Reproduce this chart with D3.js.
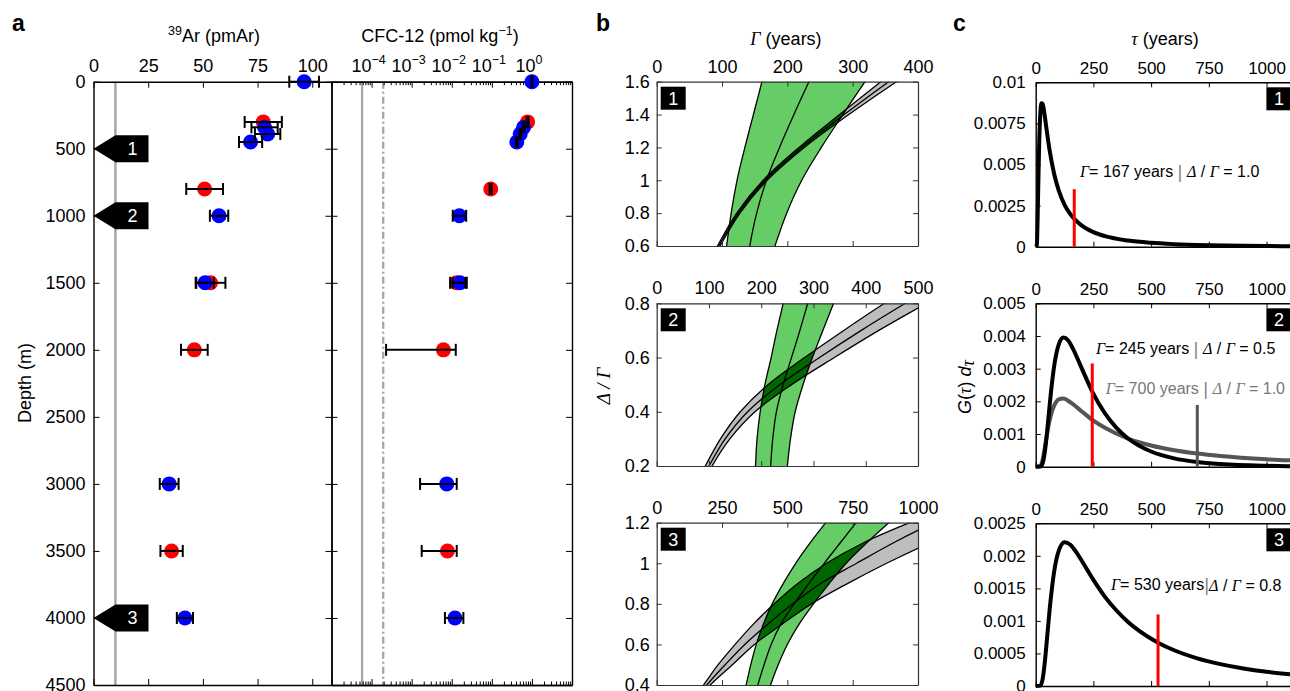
<!DOCTYPE html>
<html>
<head>
<meta charset="utf-8">
<title>39Ar / CFC-12 profiles and transit time distributions</title>
<script src="https://cdn.jsdelivr.net/npm/d3@7"></script>
<style>
  body { margin: 0; background: #fff; }
  svg { display: block; }
</style>
</head>
<body>
<svg id="chart" width="1290" height="691"></svg>
<script>
(function() {
  'use strict';

  // ---- panel a: depth profiles (R = red station, B = blue station) ----
  var depths    = [0, 300, 340, 390, 450, 800, 1000, 1500, 1500, 2000, 3000, 3500, 4000];
  var station   = ['B', 'R', 'B', 'B', 'B', 'R', 'B', 'R', 'B', 'R', 'B', 'R', 'B'];
  var ar39      = [96.3, 77.6, 78.2, 79.6, 71.8, 50.8, 57.4, 53.5, 51.0, 46.1, 34.6, 35.7, 41.8];
  var ar39Err   = [6.8, 8.5, 6.0, 5.8, 5.3, 8.4, 4.2, 6.8, 4.0, 6.1, 4.3, 5.1, 3.7];
  var cfc12     = [1.0, 0.78, 0.62, 0.51, 0.42, 0.094, 0.0155, 0.0133, 0.016, 0.0062, 0.0075, 0.0078, 0.012];
  var cfc12Low  = [0.97, 0.74, 0.59, 0.49, 0.40, 0.088, 0.0106, 0.0091, 0.0105, 0.00023, 0.00162, 0.00178, 0.00676];
  var cfc12High = [1.03, 0.82, 0.65, 0.535, 0.44, 0.10, 0.0229, 0.0237, 0.022, 0.0126, 0.0133, 0.0133, 0.0195];

  var arTicks = [0, 25, 50, 75, 100];
  var depthTicks = [0, 500, 1000, 1500, 2000, 2500, 3000, 3500, 4000, 4500];
  var cfcDecades = [1e-5, 1e-4, 1e-3, 1e-2, 1e-1, 1e0, 1e1];
  var cfcLabelled = [1e-4, 1e-3, 1e-2, 1e-1, 1e0];
  var cfcExponents = ['\u22124', '\u22123', '\u22122', '\u22121', '0'];
  var arDetection = 10;
  var cfcDetection = [5.8e-5, 1.95e-4];
  var markerDepths = [500, 1000, 4000];
  var markerLabels = ['1', '2', '3'];

  // ---- panel b: Gamma vs Delta/Gamma constraints, points are [Gamma, Delta/Gamma] ----
  var b1GammaTicks = [0, 100, 200, 300, 400];
  var b1RatioTicks = [0.6, 0.8, 1, 1.2, 1.4, 1.6];
  var b1ArLeft   = [[104, 0.5], [107, 0.6], [114, 0.8], [123, 1.0], [135, 1.2], [148, 1.4], [161, 1.6], [166, 1.7]];
  var b1ArMid    = [[139, 0.5], [142.5, 0.6], [153, 0.8], [168, 1.0], [188, 1.2], [210, 1.4], [233, 1.6], [245, 1.7]];
  var b1ArRight  = [[173, 0.5], [181, 0.6], [199, 0.8], [222, 1.0], [252, 1.2], [285, 1.4], [319, 1.6], [337, 1.7]];
  var b1CfcUpper = [[80, 0.5], [93, 0.6], [122.5, 0.8], [163, 1.0], [218, 1.2], [280, 1.4], [343, 1.6], [375, 1.7]];
  var b1CfcMid   = [[82, 0.5], [95, 0.6], [125, 0.8], [166, 1.0], [222, 1.2], [287, 1.4], [355, 1.6], [390, 1.7]];
  var b1CfcLower = [[84, 0.5], [97, 0.6], [127.5, 0.8], [169, 1.0], [226, 1.2], [294, 1.4], [367, 1.6], [405, 1.7]];

  var b2GammaTicks = [0, 100, 200, 300, 400, 500];
  var b2RatioTicks = [0.2, 0.4, 0.6, 0.8];
  var b2ArLeft   = [[186, 0.1], [189, 0.2], [192, 0.3], [198, 0.4], [207, 0.5], [219, 0.6], [230, 0.7], [242, 0.8], [255, 0.9]];
  var b2ArMid    = [[215, 0.1], [218, 0.2], [222, 0.3], [229, 0.4], [242, 0.5], [258, 0.6], [274, 0.7], [289, 0.8], [305, 0.9]];
  var b2ArRight  = [[245, 0.1], [250, 0.2], [256, 0.3], [265, 0.4], [280, 0.5], [298, 0.6], [318, 0.7], [338.5, 0.8], [360, 0.9]];
  var b2CfcUpper = [[65, 0.1], [93, 0.2], [122, 0.3], [160, 0.4], [213, 0.5], [283, 0.6], [358, 0.7], [436, 0.8], [520, 0.9]];
  var b2CfcMid   = [[72, 0.1], [100, 0.2], [131, 0.3], [174, 0.4], [235.5, 0.5], [311.5, 0.6], [391.5, 0.7], [475.5, 0.8], [560, 0.9]];
  var b2CfcLower = [[80, 0.1], [106, 0.2], [140, 0.3], [188, 0.4], [258, 0.5], [340, 0.6], [425, 0.7], [515, 0.8], [600, 0.9]];

  var b3GammaTicks = [0, 250, 500, 750, 1000];
  var b3RatioTicks = [0.4, 0.6, 0.8, 1, 1.2];
  var b3ArLeft   = [[320, 0.3], [342, 0.4], [360, 0.5], [381, 0.6], [408, 0.7], [442, 0.8], [484, 0.9], [532, 1.0], [587, 1.1], [647, 1.2], [712, 1.3]];
  var b3ArMid    = [[365, 0.3], [387, 0.4], [411, 0.5], [438, 0.6], [475, 0.7], [526, 0.8], [582, 0.9], [641, 1.0], [702, 1.1], [763, 1.2], [825, 1.3]];
  var b3ArRight  = [[415, 0.3], [436, 0.4], [465, 0.5], [500, 0.6], [545, 0.7], [600, 0.8], [660, 0.9], [725, 1.0], [803, 1.1], [888, 1.2], [975, 1.3]];
  var b3CfcUpper = [[120, 0.3], [179.5, 0.4], [235, 0.5], [300, 0.6], [370, 0.7], [450, 0.8], [540, 0.9], [650, 1.0], [790, 1.1], [968, 1.2], [1170, 1.3]];
  var b3CfcMid   = [[135, 0.3], [192, 0.4], [262, 0.5], [337, 0.6], [425, 0.7], [521, 0.8], [627, 0.9], [765, 1.0], [905, 1.1], [1060, 1.2], [1230, 1.3]];
  var b3CfcLower = [[140, 0.3], [205, 0.4], [290, 0.5], [374, 0.6], [480, 0.7], [592, 0.8], [730, 0.9], [880, 1.0], [1000, 1.074], [1080, 1.12]];

  // ---- panel c: transit time distributions G(tau) ----
  var tauTicks = [0, 250, 500, 750, 1000];
  var c1GTicks = [0, 0.0025, 0.005, 0.0075, 0.01];
  var c2GTicks = [0, 0.001, 0.002, 0.003, 0.004, 0.005];
  var c3GTicks = [0, 0.0005, 0.001, 0.0015, 0.002, 0.0025];

  var c1Tau = [0, 5, 10, 15, 20, 25, 30, 35, 40, 50, 60, 80, 100, 125, 150, 200, 250, 300, 400, 500, 600, 750, 900, 1000, 1125];
  var c1G   = [0, 0.000126, 0.00288, 0.00626, 0.00809, 0.00872, 0.0087, 0.00836, 0.00788, 0.00684, 0.00589, 0.00442, 0.00341,
               0.00255, 0.00198, 0.00128, 0.000885, 0.000642, 0.000372, 0.000234, 0.000155, 0.0000901, 0.0000552, 0.0000408, 0.000029];

  var c2Tau = [0, 20, 30, 40, 50, 60, 70, 80, 90, 100, 120, 140, 160, 200, 245, 300, 350, 400, 500, 600, 700, 800, 1000, 1125];
  var c2G   = [0, 0.000003, 0.0001, 0.000479, 0.00112, 0.00185, 0.00253, 0.00308, 0.00348, 0.00374, 0.00395, 0.00387, 0.00363,
               0.0030, 0.0023, 0.00163, 0.00119, 0.000864, 0.000465, 0.000255, 0.000143, 0.000081, 0.0000272, 0.000014];
  var c2AltTau = [0, 20, 30, 40, 50, 60, 70, 80, 100, 120, 140, 160, 200, 250, 300, 400, 500, 600, 700, 800, 1000, 1125];
  var c2AltG   = [0, 0.0000216, 0.000217, 0.000604, 0.00103, 0.0014, 0.00168, 0.00187, 0.00206, 0.00209, 0.00202, 0.00192,
                  0.00169, 0.00141, 0.00119, 0.000861, 0.000649, 0.000505, 0.000403, 0.000328, 0.000229, 0.00019];

  var c3Tau = [0, 20, 30, 40, 50, 60, 70, 80, 100, 125, 150, 175, 200, 250, 300, 350, 400, 450, 530, 600, 700, 800, 900, 1000, 1125];
  var c3G   = [0, 0.0000062, 0.000106, 0.000384, 0.000769, 0.00116, 0.00149, 0.00176, 0.00208, 0.00221, 0.00217, 0.00206, 0.00192,
               0.00163, 0.00137, 0.00116, 0.000984, 0.000842, 0.000665, 0.000549, 0.000425, 0.000336, 0.000269, 0.000218, 0.000172];

  // mean age markers: panel, tau, height
  var markPanel = [0, 1, 1, 2];
  var markTau = [167, 245, 700, 530];
  var markTop = [0.0035, 0.00316, 0.00189, 0.0011];
  var markColor = ['#ff0000', '#ff0000', '#555555', '#ff0000'];

  var annGamma = ['167', '245', '700', '530'];
  var annRatio = ['1.0', '0.5', '1.0', '0.8'];

  var FONT = "'Liberation Sans', Arial, Helvetica, sans-serif";
  var GREEK = "'Liberation Serif', 'Times New Roman', serif";

  var svg = d3.select('#chart');
  var defs = svg.append('defs');

  function styleAxis(sel, size, color, width) {
    sel.attr('font-family', null).attr('font-size', null);
    sel.selectAll('text').attr('font-family', FONT).attr('font-size', size).attr('fill', '#000');
    sel.selectAll('path.domain').attr('stroke', color).attr('stroke-width', width);
    sel.selectAll('.tick line').attr('stroke', color).attr('stroke-width', 1);
  }

  // generic boxed frame with labels on top/left and inward ticks on all sides
  function frame(box, x, y, o) {
    var g = svg.append('g');
    var t = o.tick;
    var top = g.append('g').attr('transform', 'translate(0,' + box.t + ')')
      .call(d3.axisTop(x).tickValues(o.xTicks).tickSize(-t).tickSizeOuter(0).tickPadding(o.xPad)
        .tickFormat(o.xLabels === false ? '' : String));
    var bottom = g.append('g').attr('transform', 'translate(0,' + box.b + ')')
      .call(d3.axisBottom(x).tickValues(o.xTicks).tickSize(-t).tickSizeOuter(0).tickFormat(''));
    var left = g.append('g').attr('transform', 'translate(' + box.l + ',0)')
      .call(d3.axisLeft(y).tickValues(o.yTicks).tickSize(-t).tickSizeOuter(0).tickPadding(o.yPad)
        .tickFormat(o.yLabels === false ? '' : String));
    var right = g.append('g').attr('transform', 'translate(' + box.r + ',0)')
      .call(d3.axisRight(y).tickValues(o.yTicks).tickSize(-t).tickSizeOuter(0).tickFormat(''));
    [top, bottom, left, right].forEach(function(a) { styleAxis(a, o.size, o.color, o.width); });
    return g;
  }

  function panelLetter(txt, x, y) {
    svg.append('text').attr('x', x).attr('y', y).attr('font-family', FONT)
      .attr('font-size', 23).attr('font-weight', 'bold').text(txt);
  }

  function numberBox(x, y, txt) {
    svg.append('rect').attr('x', x).attr('y', y).attr('width', 25).attr('height', 23).attr('fill', '#000');
    svg.append('text').attr('x', x + 12.5).attr('y', y + 18).attr('text-anchor', 'middle')
      .attr('font-family', FONT).attr('font-size', 18).attr('fill', '#fff').text(txt);
  }

  function errorBar(g, x1, x2, y) {
    g.append('line').attr('x1', x1).attr('x2', x2).attr('y1', y).attr('y2', y);
    g.append('line').attr('x1', x1).attr('x2', x1).attr('y1', y - 6).attr('y2', y + 6);
    g.append('line').attr('x1', x2).attr('x2', x2).attr('y1', y - 6).attr('y2', y + 6);
  }

  // ================= panel a =================
  var boxAr = {l: 93.5, r: 331.5, t: 81.7, b: 685};
  var boxCfc = {l: 331.5, r: 572, t: 81.7, b: 685};
  var depthY = d3.scaleLinear().domain([0, 4500]).range([boxAr.t, boxAr.b]);
  var arX = d3.scaleLinear().domain([0, 108.8]).range([boxAr.l, boxAr.r]);
  var cfcX = d3.scaleLog().domain([1e-5, 10]).range([boxCfc.l, boxCfc.r]);

  // detection limits
  svg.append('line').attr('x1', arX(arDetection)).attr('x2', arX(arDetection))
    .attr('y1', boxAr.t).attr('y2', boxAr.b).attr('stroke', '#a6a6a6').attr('stroke-width', 2.5);
  svg.append('line').attr('x1', cfcX(cfcDetection[0])).attr('x2', cfcX(cfcDetection[0]))
    .attr('y1', boxCfc.t).attr('y2', boxCfc.b).attr('stroke', '#a6a6a6').attr('stroke-width', 2.3);
  svg.append('line').attr('x1', cfcX(cfcDetection[1])).attr('x2', cfcX(cfcDetection[1]))
    .attr('y1', boxCfc.t).attr('y2', boxCfc.b).attr('stroke', '#a6a6a6').attr('stroke-width', 2.3)
    .attr('stroke-dasharray', '7,3,2,3');

  frame(boxAr, arX, depthY, {xTicks: arTicks, yTicks: depthTicks, tick: 6, xPad: 10, yPad: 8,
    size: 18, color: '#000', width: 1.4});

  // CFC frame: log axis with minor ticks
  var cfcMinor = [];
  cfcDecades.slice(0, -1).forEach(function(d) {
    for (var k = 2; k <= 9; k++) cfcMinor.push(d * k);
  });
  var cfcG = svg.append('g');
  [['axisTop', boxCfc.t], ['axisBottom', boxCfc.b]].forEach(function(s) {
    var major = cfcG.append('g').attr('transform', 'translate(0,' + s[1] + ')')
      .call(d3[s[0]](cfcX).tickValues(cfcDecades).tickSize(-6).tickSizeOuter(0).tickFormat(''));
    var minor = cfcG.append('g').attr('transform', 'translate(0,' + s[1] + ')')
      .call(d3[s[0]](cfcX).tickValues(cfcMinor).tickSize(-3.5).tickSizeOuter(0).tickFormat(''));
    styleAxis(major, 18, '#000', 1.4);
    styleAxis(minor, 18, '#000', 1.4);
  });
  var cfcLeft = cfcG.append('g').attr('transform', 'translate(' + boxCfc.l + ',0)')
    .call(d3.axisLeft(depthY).tickValues(depthTicks).tickSize(-6).tickSizeOuter(0).tickFormat(''));
  var cfcRight = cfcG.append('g').attr('transform', 'translate(' + boxCfc.r + ',0)')
    .call(d3.axisRight(depthY).tickValues(depthTicks).tickSize(-6).tickSizeOuter(0).tickFormat(''));
  styleAxis(cfcLeft, 18, '#000', 1.4);
  styleAxis(cfcRight, 18, '#000', 1.4);
  cfcLabelled.forEach(function(v, i) {
    var t = svg.append('text').attr('x', cfcX(v) - 3).attr('y', boxCfc.t - 10).attr('text-anchor', 'middle')
      .attr('font-family', FONT).attr('font-size', 18).text('10');
    t.append('tspan').attr('dy', -8).attr('font-size', 12.5).text(cfcExponents[i]);
  });

  // points: red station first, blue on top, error bars over the circles
  var order = d3.range(depths.length).filter(function(i) { return station[i] === 'R'; })
    .concat(d3.range(depths.length).filter(function(i) { return station[i] === 'B'; }));
  var stationColor = {R: '#ff0000', B: '#0000ff'};
  var dots = svg.append('g');
  order.forEach(function(i) {
    dots.append('circle').attr('cx', arX(ar39[i])).attr('cy', depthY(depths[i])).attr('r', 7.5)
      .attr('fill', stationColor[station[i]]);
    dots.append('circle').attr('cx', cfcX(cfc12[i])).attr('cy', depthY(depths[i])).attr('r', 7.5)
      .attr('fill', stationColor[station[i]]);
  });
  var bars = svg.append('g').attr('stroke', '#000').attr('stroke-width', 2);
  order.forEach(function(i) {
    errorBar(bars, arX(ar39[i] - ar39Err[i]), arX(ar39[i] + ar39Err[i]), depthY(depths[i]));
    errorBar(bars, cfcX(cfc12Low[i]), cfcX(cfc12High[i]), depthY(depths[i]));
  });

  // depth markers for the three samples of panels b and c
  markerDepths.forEach(function(d, i) {
    var y = depthY(d), x0 = boxAr.l;
    svg.append('path')
      .attr('d', 'M' + x0 + ',' + y + 'L' + (x0 + 22) + ',' + (y - 13.5) + 'H' + (x0 + 55) +
        'V' + (y + 13.5) + 'H' + (x0 + 22) + 'Z')
      .attr('fill', '#000');
    svg.append('text').attr('x', x0 + 39).attr('y', y + 6.5).attr('text-anchor', 'middle')
      .attr('font-family', FONT).attr('font-size', 18).attr('fill', '#fff').text(markerLabels[i]);
  });

  // titles for panel a
  var arTitle = svg.append('text').attr('x', 214).attr('y', 42).attr('text-anchor', 'middle')
    .attr('font-family', FONT).attr('font-size', 18);
  arTitle.append('tspan').attr('font-size', 12.5).attr('dy', -7).text('39');
  arTitle.append('tspan').attr('dy', 7).text('Ar (pmAr)');
  var cfcTitle = svg.append('text').attr('x', 440).attr('y', 42).attr('text-anchor', 'middle')
    .attr('font-family', FONT).attr('font-size', 18);
  cfcTitle.append('tspan').text('CFC-12 (pmol kg');
  cfcTitle.append('tspan').attr('font-size', 12.5).attr('dy', -7).text('\u22121');
  cfcTitle.append('tspan').attr('dy', 7).text(')');
  svg.append('text').attr('transform', 'translate(31,383) rotate(-90)').attr('text-anchor', 'middle')
    .attr('font-family', FONT).attr('font-size', 18).text('Depth (m)');
  panelLetter('a', 12, 31);

  // ================= panel b =================
  var bBoxes = [{l: 656.7, r: 918, t: 81.7, b: 246}, {l: 656.7, r: 918, t: 303.3, b: 466},
    {l: 656.7, r: 918, t: 522.7, b: 685}];
  var bPlots = [
    {gMax: 400, ratio: [0.6, 1.6], gTicks: b1GammaTicks, rTicks: b1RatioTicks,
      ar: [b1ArLeft, b1ArMid, b1ArRight], cfc: [b1CfcUpper, b1CfcMid, b1CfcLower]},
    {gMax: 500, ratio: [0.2, 0.8], gTicks: b2GammaTicks, rTicks: b2RatioTicks,
      ar: [b2ArLeft, b2ArMid, b2ArRight], cfc: [b2CfcUpper, b2CfcMid, b2CfcLower]},
    {gMax: 1000, ratio: [0.4, 1.2], gTicks: b3GammaTicks, rTicks: b3RatioTicks,
      ar: [b3ArLeft, b3ArMid, b3ArRight], cfc: [b3CfcUpper, b3CfcMid, b3CfcLower]}
  ];

  bPlots.forEach(function(p, i) {
    var box = bBoxes[i];
    var x = d3.scaleLinear().domain([0, p.gMax]).range([box.l, box.r]);
    var y = d3.scaleLinear().domain(p.ratio).range([box.b, box.t]);
    var line = d3.line().x(function(d) { return x(d[0]); }).y(function(d) { return y(d[1]); })
      .curve(d3.curveCatmullRom.alpha(0.5));
    var band = function(a, b) {
      return line(a) + 'L' + line(b.slice().reverse()).slice(1) + 'Z';
    };
    defs.append('clipPath').attr('id', 'bbox' + i).append('rect')
      .attr('x', box.l).attr('y', box.t).attr('width', box.r - box.l).attr('height', box.b - box.t);
    defs.append('clipPath').attr('id', 'cfcband' + i).append('path').attr('d', band(p.cfc[0], p.cfc[2]));

    var pg = svg.append('g').attr('clip-path', 'url(#bbox' + i + ')');
    pg.append('path').attr('d', band(p.cfc[0], p.cfc[2])).attr('fill', '#bdbdbd');
    pg.append('path').attr('d', band(p.ar[0], p.ar[2])).attr('fill', '#66cc66');
    pg.append('g').attr('clip-path', 'url(#cfcband' + i + ')')
      .append('path').attr('d', band(p.ar[0], p.ar[2])).attr('fill', '#006600');
    p.cfc.concat(p.ar).forEach(function(c) {
      pg.append('path').attr('d', line(c)).attr('fill', 'none').attr('stroke', '#000').attr('stroke-width', 1.3);
    });

    frame(box, x, y, {xTicks: p.gTicks, yTicks: p.rTicks, tick: 5, xPad: 9, yPad: 7,
      size: 18, color: '#333', width: 1.2});
    numberBox(box.l + 4, box.t + 5, String(i + 1));
  });

  var bTitle = svg.append('text').attr('x', 786).attr('y', 45).attr('text-anchor', 'middle')
    .attr('font-family', FONT).attr('font-size', 18);
  bTitle.append('tspan').attr('font-family', GREEK).attr('font-style', 'italic').text('\u0393');
  bTitle.append('tspan').text('  (years)');
  svg.append('text').attr('transform', 'translate(610,386) rotate(-90)').attr('text-anchor', 'middle')
    .attr('font-family', GREEK).attr('font-style', 'italic').attr('font-size', 19).text('\u0394 / \u0393');
  panelLetter('b', 596, 31);

  // ================= panel c =================
  var cBoxes = [{l: 1035.7, r: 1295.4, t: 82.3, b: 246.7}, {l: 1035.7, r: 1295.4, t: 303.3, b: 466.7},
    {l: 1035.7, r: 1295.4, t: 523.3, b: 686}];
  var cPlots = [
    {gMax: 0.01, gTicks: c1GTicks, curves: [[c1Tau, c1G, '#000']]},
    {gMax: 0.005, gTicks: c2GTicks, curves: [[c2AltTau, c2AltG, '#555555'], [c2Tau, c2G, '#000']]},
    {gMax: 0.0025, gTicks: c3GTicks, curves: [[c3Tau, c3G, '#000']]}
  ];
  var cScales = [];

  cPlots.forEach(function(p, i) {
    var box = cBoxes[i];
    var x = d3.scaleLinear().domain([0, 1125]).range([box.l, box.r]);
    var y = d3.scaleLinear().domain([0, p.gMax]).range([box.b, box.t]);
    cScales.push({x: x, y: y});
    defs.append('clipPath').attr('id', 'cbox' + i).append('rect')
      .attr('x', box.l - 3).attr('y', box.t).attr('width', box.r - box.l + 3).attr('height', box.b - box.t + 3);
    var pg = svg.append('g').attr('clip-path', 'url(#cbox' + i + ')');
    p.curves.forEach(function(c) {
      var pts = c[0].map(function(t, k) { return [t, c[1][k]]; });
      pg.append('path').datum(pts)
        .attr('d', d3.line().x(function(d) { return x(d[0]); }).y(function(d) { return y(d[1]); })
          .curve(d3.curveMonotoneX))
        .attr('fill', 'none').attr('stroke', c[2]).attr('stroke-width', 4)
        .attr('stroke-linejoin', 'round');
    });
    frame(box, x, y, {xTicks: tauTicks, yTicks: p.gTicks, tick: 5, xPad: 8, yPad: 10,
      size: 17, color: '#000', width: 1.4});
    numberBox(box.r - 29, box.t + 5, String(i + 1));
  });

  markTau.forEach(function(t, i) {
    var s = cScales[markPanel[i]];
    svg.append('line').attr('x1', s.x(t)).attr('x2', s.x(t)).attr('y1', s.y(0)).attr('y2', s.y(markTop[i]))
      .attr('stroke', markColor[i]).attr('stroke-width', 3);
  });

  // annotations
  var annPos = [[1080, 176.7, '#000', true], [1096, 354, '#000', true], [1105.7, 394.3, '#777', true],
    [1111, 590, '#000', false]];
  annPos.forEach(function(a, i) {
    var t = svg.append('text').attr('x', a[0]).attr('y', a[1]).attr('font-family', FONT)
      .attr('font-size', 16).attr('fill', a[2]);
    t.append('tspan').attr('font-family', GREEK).attr('font-style', 'italic').text('\u0393');
    t.append('tspan').text('= ' + annGamma[i] + ' years' + (a[3] ? ' ' : ''));
    t.append('tspan').attr('fill', '#888').attr('font-size', 19).attr('dy', 1).text('|');
    t.append('tspan').attr('dy', -1).text(a[3] ? ' ' : '');
    t.append('tspan').attr('font-family', GREEK).attr('font-style', 'italic').text('\u0394');
    t.append('tspan').text(' / ');
    t.append('tspan').attr('font-family', GREEK).attr('font-style', 'italic').text('\u0393');
    t.append('tspan').text(' = ' + annRatio[i]);
  });

  var cTitle = svg.append('text').attr('x', 1165).attr('y', 45).attr('text-anchor', 'middle')
    .attr('font-family', FONT).attr('font-size', 18);
  cTitle.append('tspan').attr('font-family', GREEK).attr('font-style', 'italic').text('\u03c4');
  cTitle.append('tspan').text(' (years)');
  var cYLabel = svg.append('text').attr('transform', 'translate(971,387) rotate(-90)').attr('text-anchor', 'middle')
    .attr('font-family', FONT).attr('font-size', 18);
  cYLabel.append('tspan').attr('font-style', 'italic').text('G');
  cYLabel.append('tspan').text('(');
  cYLabel.append('tspan').attr('font-family', GREEK).attr('font-style', 'italic').text('\u03c4');
  cYLabel.append('tspan').text(') ');
  cYLabel.append('tspan').attr('font-style', 'italic').text('d');
  cYLabel.append('tspan').attr('font-family', GREEK).attr('font-style', 'italic').attr('dy', 3).text('\u03c4');
  panelLetter('c', 953, 31);
})();
</script>
</body>
</html>
